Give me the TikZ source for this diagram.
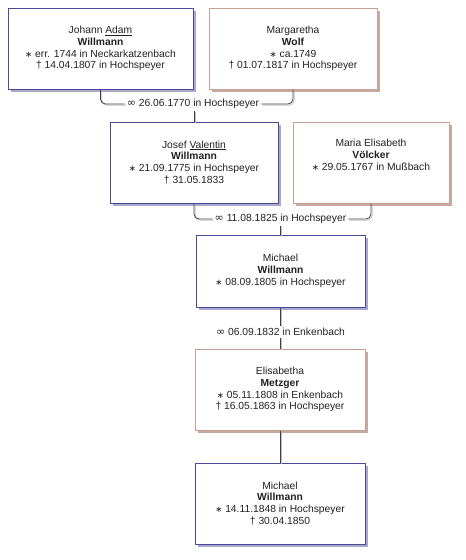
\documentclass[tikz,border=0pt]{standalone}
\usepackage{fontspec}
\setmainfont{Liberation Sans}
\newfontfamily\symfont{DejaVu Sans}
\usetikzlibrary{shadows}
\definecolor{mborder}{HTML}{4A4A96}
\definecolor{mshadow}{HTML}{A8A8D0}
\definecolor{fborder}{HTML}{C8A090}
\definecolor{fshadow}{HTML}{C4AAA0}
\definecolor{txt}{HTML}{222222}
\newcommand{\birth}{{\symfont\fontsize{8.5}{10}\selectfont ∗}}
\newcommand{\mar}{{\symfont\fontsize{11}{10}\selectfont ∞}}
\begin{document}
\begin{tikzpicture}[x=1pt,y=-1pt,
  box/.style={draw, line width=1pt, fill=white, inner sep=0pt, align=center,
    text=txt, font=\fontsize{10.3}{11.8}\selectfont, minimum height=81pt},
  male/.style={box, draw=mborder, drop shadow={shadow xshift=2.8pt, shadow yshift=-2.8pt, opacity=1, fill=mshadow}},
  female/.style={box, draw=fborder, drop shadow={shadow xshift=2.8pt, shadow yshift=-2.8pt, opacity=1, fill=fshadow}},
  mlabel/.style={inner sep=2pt, text=txt, font=\fontsize{10.3}{11.8}\selectfont},
  conn/.style={draw=black!75, line width=0.8pt,
    preaction={draw=black!25, line width=0.8pt, transform canvas={shift={(1.2pt,-1.2pt)}}}}
  ]
\useasboundingbox (0,0) rectangle (466,560);
\fill[white] (0,0) rectangle (466,560);

\node[male, minimum width=185pt] (A) at (100.5,48.5)
  {Johann \underline{Adam}\\ \textbf{Willmann}\\ \birth{} err. 1744 in Neckarkatzenbach\\ † 14.04.1807 in Hochspeyer};
\node[female, minimum width=168pt] (B) at (293,48.5)
  {Margaretha\\ \textbf{Wolf}\\ \birth{} ca.1749\\ † 01.07.1817 in Hochspeyer};
\node[male, minimum width=168pt] (C) at (194,162.5)
  {Josef \underline{Valentin}\\ \textbf{Willmann}\\ \birth{} 21.09.1775 in Hochspeyer\\ † 31.05.1833};
\node[female, minimum width=156pt] (D) at (371,162.5)
  {Maria Elisabeth\\ \textbf{Völcker}\\ \birth{} 29.05.1767 in Mußbach\\ \strut};
\node[male, minimum width=169pt, minimum height=72pt] (E) at (280.5,271)
  {Michael\\ \textbf{Willmann}\\ \birth{} 08.09.1805 in Hochspeyer};
\node[female, minimum width=170pt] (F) at (280,389.5)
  {Elisabetha\\ \textbf{Metzger}\\ \birth{} 05.11.1808 in Enkenbach\\ † 16.05.1863 in Hochspeyer};
\node[male, minimum width=170pt] (G) at (280,503.5)
  {Michael\\ \textbf{Willmann}\\ \birth{} 14.11.1848 in Hochspeyer\\ † 30.04.1850};

\node[mlabel] (m1) at (193,104) {\mar{} 26.06.1770 in Hochspeyer};
\node[mlabel] (m2) at (280.5,219) {\mar{} 11.08.1825 in Hochspeyer};
\node[mlabel] (m3) at (280.5,332) {\mar{} 06.09.1832 in Enkenbach};

\draw[conn, rounded corners=5pt] (A.south) |- (m1.west);
\draw[conn, rounded corners=5pt] (B.south) |- (m1.east);
\draw[conn] (m1.south -| C.north) -- (C.north);

\draw[conn, rounded corners=5pt] (C.south) |- (m2.west);
\draw[conn, rounded corners=5pt] (D.south) |- (m2.east);
\draw[conn] (m2.south -| E.north) -- (E.north);

\draw[conn] (E.south) -- (m3.north -| E.south);
\draw[conn] (m3.south -| F.north) -- (F.north);
\draw[conn] (F.south) -- (G.north);
\end{tikzpicture}
\end{document}
